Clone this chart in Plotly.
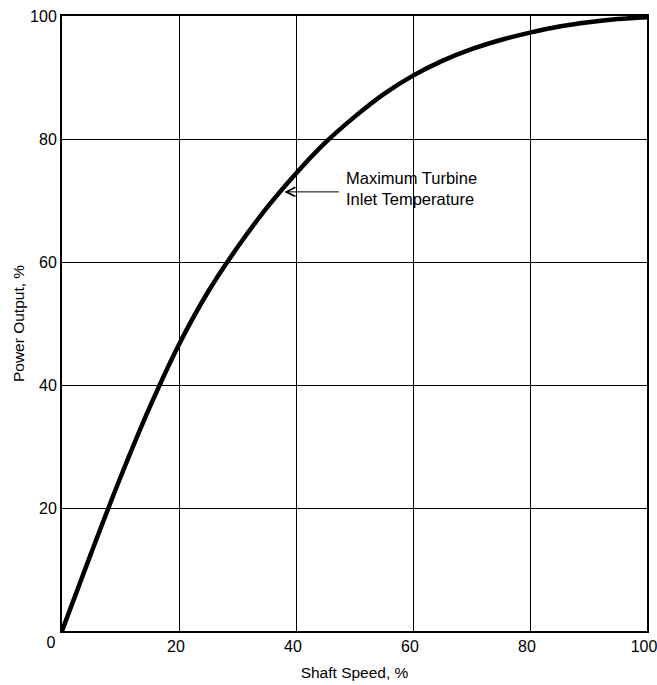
import plotly.graph_objects as go

shaft_speed = [0, 5, 10, 15, 20, 25, 30, 35, 40, 45, 50, 55, 60, 65, 70, 75, 80, 85, 90, 95, 100]
power_output = [0, 12.7, 25.0, 36.4, 46.6, 55.2, 62.4, 68.8, 74.4, 79.4, 83.6, 87.3, 90.3, 92.7, 94.6, 96.1, 97.3, 98.3, 99.0, 99.5, 99.8]

x_tick_vals = [20, 40, 60, 80, 100]
x_tick_text = ["20", "40", "60", "80", "100"]
origin_tick_vals = [0]
origin_tick_text = ["0"]
y_tick_vals = [20, 40, 60, 80, 100]
y_tick_text = ["20", "40", "60", "80", "100"]

annot_text = "Maximum Turbine<br>Inlet Temperature"
arrow_tip = (38.0, 71.4)
arrow_tail = (47.6, 71.4)

FONT = "Liberation Sans, Arial, sans-serif"

fig = go.Figure()
fig.add_trace(go.Scatter(
    x=shaft_speed, y=power_output, mode="lines",
    line=dict(color="black", width=4.5, shape="spline", smoothing=1.0),
    hoverinfo="skip", showlegend=False,
))
fig.add_trace(go.Scatter(
    x=[0], y=[0], xaxis="x2", mode="markers", marker=dict(opacity=0),
    hoverinfo="skip", showlegend=False,
))

tickfont = dict(family=FONT, size=16, color="black")
titlefont = dict(family=FONT, size=15.5, color="black")

fig.update_layout(
    width=657, height=685,
    margin=dict(l=62, r=10, t=16, b=54),
    plot_bgcolor="white", paper_bgcolor="white",
    xaxis=dict(
        range=[0, 100], tickvals=x_tick_vals, ticktext=x_tick_text,
        showgrid=True, gridcolor="black", gridwidth=1,
        showline=True, linecolor="black", linewidth=2, mirror=True,
        zeroline=False, ticks="", tickfont=tickfont, ticklabelshift=-3,
        automargin=False, ticklabeloverflow="allow",
        title=dict(text="Shaft Speed, %", font=titlefont, standoff=13),
    ),
    xaxis2=dict(
        range=[0, 100], overlaying="x", side="bottom", anchor="y",
        tickvals=origin_tick_vals, ticktext=origin_tick_text,
        showgrid=False, showline=False, zeroline=False, ticks="",
        tickfont=tickfont, ticklabelshift=-11,
        automargin=False, ticklabeloverflow="allow",
    ),
    yaxis=dict(
        range=[0, 100], tickvals=y_tick_vals, ticktext=y_tick_text,
        showgrid=True, gridcolor="black", gridwidth=1,
        showline=True, linecolor="black", linewidth=2, mirror=True,
        zeroline=False, ticks="", tickfont=tickfont,
        automargin=False, ticklabeloverflow="allow",
        title=dict(text="Power Output, %", font=titlefont, standoff=2),
    ),
)

fig.add_annotation(
    x=arrow_tip[0], y=arrow_tip[1], ax=arrow_tail[0], ay=arrow_tail[1],
    axref="x", ayref="y", xref="x", yref="y",
    text="", showarrow=True, arrowhead=5, arrowsize=1.8, arrowwidth=1,
    arrowcolor="black",
)
fig.add_annotation(
    x=arrow_tail[0] + 0.6, y=arrow_tail[1] + 0.6, xref="x", yref="y",
    text=annot_text, showarrow=False, xanchor="left", yanchor="middle",
    align="left", font=dict(family=FONT, size=16.5, color="black"),
)

fig.write_html(
    "out.html",
    config={"displayModeBar": False},
    post_script="document.body.style.margin='0';document.documentElement.style.overflow='hidden';",
)
